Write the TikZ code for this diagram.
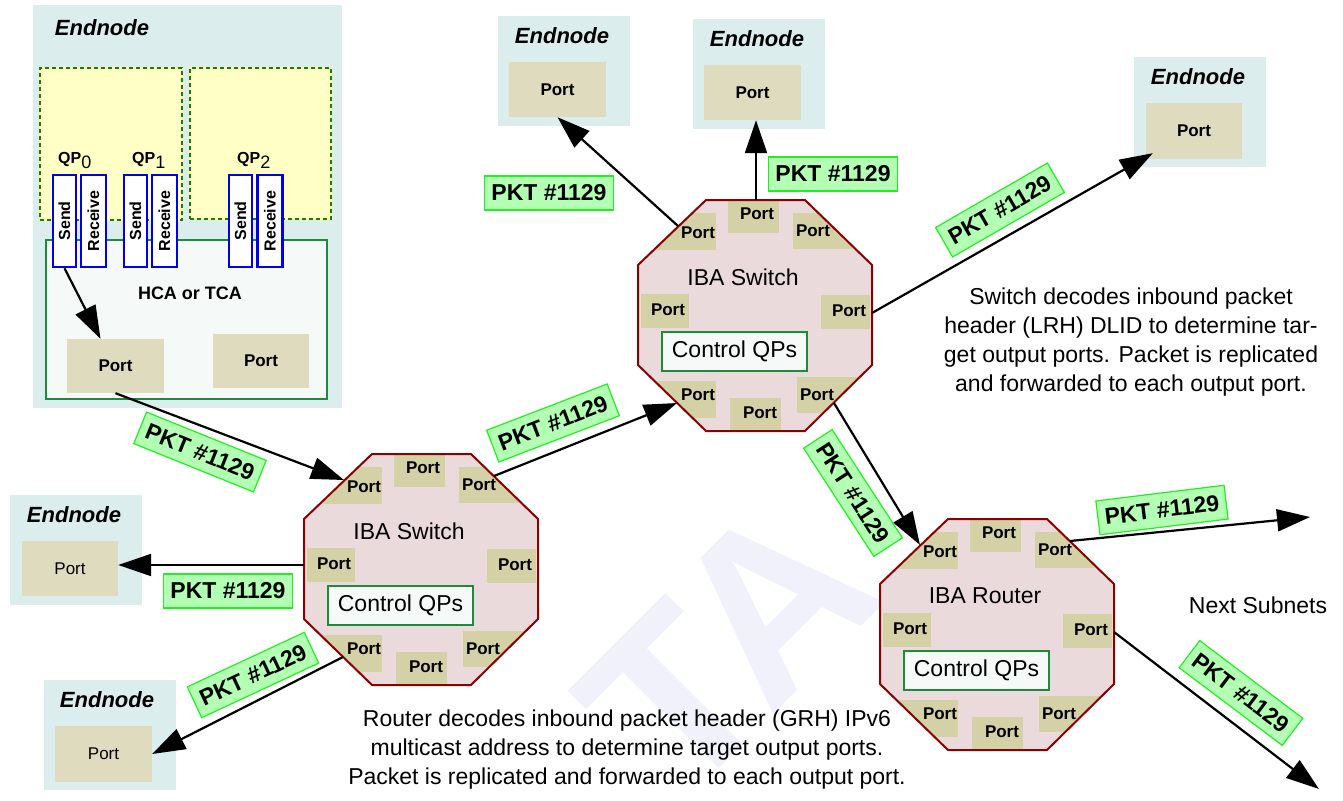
\documentclass[tikz,border=0pt]{standalone}
\usepackage{fontspec}
\setmainfont{Liberation Sans}
\usetikzlibrary{arrows.meta,calc}
\definecolor{endbg}{HTML}{DCEDED}
\definecolor{eport}{HTML}{DEDBBE}
\definecolor{sport}{HTML}{D4D1A7}
\definecolor{octfillc}{HTML}{EBDADB}
\definecolor{octline}{HTML}{8B0000}
\definecolor{hcafill}{HTML}{F5FAF9}
\definecolor{hcaline}{HTML}{1E8B3A}
\definecolor{pktfill}{HTML}{B3FFB3}
\definecolor{pktline}{HTML}{22EE22}
\definecolor{qpfill}{HTML}{FFFFC6}
\definecolor{qpdash}{HTML}{1A7A1A}
\definecolor{qpyel}{HTML}{FFFF88}
\definecolor{srblue}{HTML}{0000EE}
\definecolor{wm}{HTML}{F1F1FB}
\newcommand\fs[1]{\fontsize{#1}{#1}\selectfont}
\tikzset{
  endbox/.style={fill=endbg, inner sep=0, anchor=north west},
  endtitle/.style={font=\fs{22}\bfseries\itshape, inner sep=0},
  eportbox/.style={fill=eport, inner sep=0, font=\fs{17}\bfseries},
  eportboxn/.style={fill=eport, inner sep=0, font=\fs{17}},
  porttxt/.style={font=\fs{17}\bfseries, inner sep=0},
  qpbox/.style={fill=qpfill, draw=qpyel, line width=1.5pt, inner sep=0,
    postaction={draw=qpdash, dash pattern=on 4pt off 3pt, line width=1.2pt}},
  hcabox/.style={fill=hcafill, draw=hcaline, line width=1.5pt, inner sep=0},
  srbox/.style={draw=srblue, line width=2.5pt, fill=white, rotate=90,
    minimum width=92pt, minimum height=23pt, inner sep=0, font=\fs{16}\bfseries},
  qplabel/.style={anchor=base west, inner sep=0, font=\fs{16}},
  ctrlqp/.style={draw=hcaline, line width=2pt, fill=hcafill, minimum width=145pt,
    minimum height=39pt, inner sep=0, font=\fs{23}},
  pkt/.style={fill=pktfill, draw=pktline, line width=1.2pt, minimum height=34pt,
    inner xsep=7pt, inner ysep=0, font=\fs{23}\bfseries},
  bodytext/.style={align=center, font=\fontsize{23}{29}\selectfont, inner sep=0},
  arr/.style={line width=2.2pt, -{Triangle[length=33pt,width=22pt]}},
  octborder/.style={draw=octline, line width=2pt},
}
\newcommand\octa[4]{%
\begin{scope}[shift={(#2,#3)}]
\path[fill=octfillc] (68,0) -- (167,0) -- (234,65) -- (234,165) -- (167,231) -- (68,231) -- (0,165) -- (0,65) -- cycle;
\begin{scope}
\clip (68,0) -- (167,0) -- (234,65) -- (234,165) -- (167,231) -- (68,231) -- (0,165) -- (0,65) -- cycle;
\fill[sport] (90,0) rectangle (141,33);
\fill[sport] (15,13) rectangle (78,50);
\fill[sport] (155,13) rectangle (222,49);
\fill[sport] (3,94) rectangle (51,128);
\fill[sport] (183,95) rectangle (232,129);
\fill[sport] (15,181) rectangle (78,218);
\fill[sport] (92,198) rectangle (143,232);
\fill[sport] (159,177) rectangle (222,213);
\end{scope}
\path[octborder] (68,0) -- (167,0) -- (234,65) -- (234,165) -- (167,231) -- (68,231) -- (0,165) -- (0,65) -- cycle;
\node[porttxt] (#1-pt) at (119,14) {Port};
\node[porttxt] (#1-ptl) at (60,33) {Port};
\node[porttxt] (#1-ptr) at (175,31) {Port};
\node[porttxt] (#1-pl) at (30,110) {Port};
\node[porttxt] (#1-pr) at (211,111) {Port};
\node[porttxt] (#1-pbl) at (60,195) {Port};
\node[porttxt] (#1-pb) at (122,213) {Port};
\node[porttxt] (#1-pbr) at (179,195) {Port};
\node[font=\fs{23}, inner sep=0] (#1-title) at (105,77) {#4};
\node[ctrlqp] (#1-cq) at (96.5,151.5) {Control QPs};
\coordinate (#1-ct) at (118,0);
\coordinate (#1-ctl) at (40,26);
\coordinate (#1-ctr) at (190,22);
\coordinate (#1-cl) at (0,111);
\coordinate (#1-cr) at (234,113);
\coordinate (#1-cbl) at (39,203);
\coordinate (#1-cbr) at (196,203);
\end{scope}}
\begin{document}
\begin{tikzpicture}[x=1pt,y=-1pt]
\useasboundingbox (0,0) rectangle (1343,800);
\fill[white] (0,0) rectangle (1343,800);
% watermark
\node[anchor=base west, rotate=45, text=wm, font=\fs{235}\bfseries, inner sep=0] (wmk) at (680,808) {TA};

% big endnode
\node[endbox, minimum width=309pt, minimum height=403pt] (en0) at (33,5) {};
\node[endtitle] (en0t) at (102,28) {Endnode};
\node[qpbox, minimum width=142pt, minimum height=152pt] (qa) at (111,144) {};
\node[qpbox, minimum width=141pt, minimum height=151pt] (qb) at (260.5,143.5) {};
\node[hcabox, minimum width=281pt, minimum height=159pt] (hca) at (186.5,319.5) {};
\node[font=\fs{18}\bfseries, inner sep=0] (hcat) at (190,293) {HCA or TCA};
\node[qplabel] (qp0) at (58,163) {\textbf{QP}\raisebox{-5pt}{\fs{18}0}};
\node[qplabel] (qp1) at (132,163) {\textbf{QP}\raisebox{-5pt}{\fs{18}1}};
\node[qplabel] (qp2) at (237,163) {\textbf{QP}\raisebox{-5pt}{\fs{18}2}};
\node[srbox] (s0) at (64.5,221) {Send};
\node[srbox, minimum height=25pt] (r0) at (93.5,221) {Receive};
\node[srbox] (s1) at (135.5,221) {Send};
\node[srbox, minimum height=25pt] (r1) at (164.5,221) {Receive};
\node[srbox] (s2) at (240.5,221) {Send};
\node[srbox, minimum height=25pt] (r2) at (270,221) {Receive};
\node[eportbox, minimum width=97pt, minimum height=54pt] (hp1) at (115.5,366) {Port};
\node[eportbox, minimum width=96pt, minimum height=54pt] (hp2) at (261,361) {Port};

% small endnodes
\node[endbox, minimum width=132pt, minimum height=110pt] (en1) at (498,16) {};
\node[endtitle] (en1t) at (562,36) {Endnode};
\node[eportbox, minimum width=97pt, minimum height=55pt] (en1p) at (557.5,89.5) {Port};
\node[endbox, minimum width=132pt, minimum height=110pt] (en2) at (693,19) {};
\node[endtitle] (en2t) at (757,39) {Endnode};
\node[eportbox, minimum width=97pt, minimum height=55pt] (en2p) at (752.5,92.5) {Port};
\node[endbox, minimum width=132pt, minimum height=110pt] (en3) at (1134,57) {};
\node[endtitle] (en3t) at (1198,77) {Endnode};
\node[eportbox, minimum width=96pt, minimum height=56pt] (en3p) at (1194,131) {Port};
\node[endbox, minimum width=132pt, minimum height=110pt] (en4) at (10,495) {};
\node[endtitle] (en4t) at (74,515) {Endnode};
\node[eportboxn, minimum width=96pt, minimum height=55pt] (en4p) at (70,568.5) {Port};
\node[endbox, minimum width=132pt, minimum height=110pt] (en5) at (44,680) {};
\node[endtitle] (en5t) at (107,700) {Endnode};
\node[eportboxn, minimum width=97pt, minimum height=56pt] (en5p) at (103.5,754) {Port};

% switches and router
\octa{sa}{304}{454}{IBA Switch}
\octa{sb}{638}{200}{IBA Switch}
\octa{rt}{880}{519}{IBA Router}

\coordinate (n1) at (1310,517);
\coordinate (n2) at (1319,789);

% connectors
\draw[arr] (s0.west) -- ([xshift=-15pt]hp1.north);
\draw[arr] (hp1.south) -- (sa-ctl);
\draw[arr] (sa-cl) -- (sa-cl -| en4p.east);
\draw[arr] (sa-cbl) -- (en5p.east);
\draw[arr] (sa-ctr) -- (sb-cbl);
\draw[arr] (sb-ctl) -- (en1p.south);
\draw[arr] (sb-ct) -- (sb-ct |- en2p.south);
\draw[arr] (sb-cr) -- ([xshift=7pt,yshift=6pt]en3p.south west);
\draw[arr] (sb-cbr) -- (rt-ctl);
\draw[arr] (rt-ctr) -- (n1);
\draw[arr] (rt-cr) -- (n2);

% packet labels
\node[pkt] (k1) at (549,193) {PKT \#1129};
\node[pkt] (k2) at (833,174) {PKT \#1129};
\node[pkt, rotate=30] (k3) at (1000,210) {PKT \#1129};
\node[pkt, rotate=-22] (k4) at (200,452) {PKT \#1129};
\node[pkt, rotate=21] (k5) at (553,423) {PKT \#1129};
\node[pkt, rotate=-57] (k6) at (853,493) {PKT \#1129};
\node[pkt] (k7) at (228,591) {PKT \#1129};
\node[pkt, rotate=25] (k8) at (253,675) {PKT \#1129};
\node[pkt, rotate=7] (k9) at (1162,510) {PKT \#1129};
\node[pkt, rotate=-37] (k10) at (1241,693) {PKT \#1129};

% texts
\node[bodytext] (swtxt) at (1131,342) {Switch decodes inbound packet\\header (LRH) DLID to determine tar-\\get output ports. Packet is replicated\\and forwarded to each output port.};
\node[bodytext] (rttxt) at (627,750) {Router decodes inbound packet header (GRH) IPv6\\multicast address to determine target output ports.\\Packet is replicated and forwarded to each output port.};
\node[font=\fs{23}, inner sep=0] (nsub) at (1258,605) {Next Subnets};
\end{tikzpicture}
\end{document}
